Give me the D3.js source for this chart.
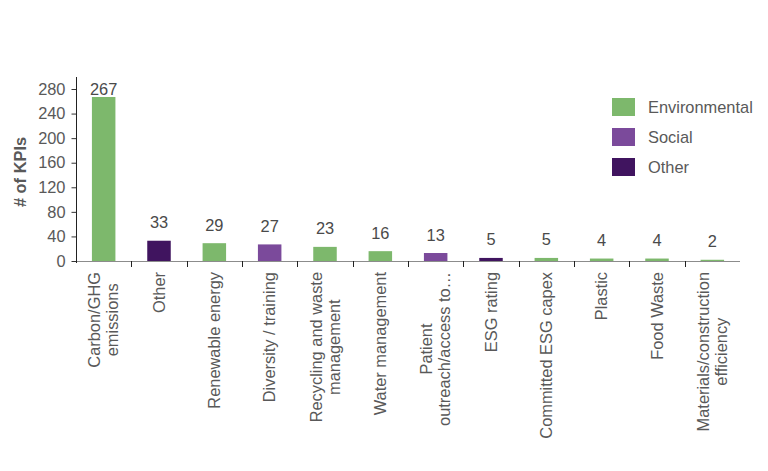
<!DOCTYPE html>
<html>
<head>
<meta charset="utf-8">
<script src="https://cdn.jsdelivr.net/npm/d3@7"></script>
<style>
  html, body { margin: 0; padding: 0; background: #fff; }
  svg { display: block; font-family: "Liberation Sans", Arial, sans-serif; }
</style>
</head>
<body>
<svg id="chart" width="768" height="471"></svg>
<script>
const categories = [
  ["Carbon/GHG", "emissions"],
  ["Other"],
  ["Renewable energy"],
  ["Diversity / training"],
  ["Recycling and waste", "management"],
  ["Water management"],
  ["Patient", "outreach/access to…"],
  ["ESG rating"],
  ["Committed ESG capex"],
  ["Plastic"],
  ["Food Waste"],
  ["Materials/construction", "efficiency"]
];
const values = [267, 33, 29, 27, 23, 16, 13, 5, 5, 4, 4, 2];
const groups = ["Environmental", "Other", "Environmental", "Social", "Environmental", "Environmental", "Social", "Other", "Environmental", "Environmental", "Environmental", "Environmental"];
const legendGroups = ["Environmental", "Social", "Other"];
const yTicks = [0, 40, 80, 120, 160, 200, 240, 280];

const colors = { "Environmental": "#7db86c", "Social": "#7b4a9b", "Other": "#40145f" };

(function () {
const svg = d3.select("#chart");
const mLeft = 76, mRight = 740, mTop = 89, mBottom = 261;
const fs = 16.4;
const txtCol = "#595959";

const xb = d3.scaleBand().domain(d3.range(categories.length)).range([mLeft, mRight]);
const y = d3.scaleLinear().domain([0, 280]).range([mBottom, mTop]);
const barW = 23.5;

// bars
svg.append("g").selectAll("rect").data(values).join("rect")
  .attr("x", (d, i) => xb(i) + xb.bandwidth() / 2 - barW / 2)
  .attr("width", barW)
  .attr("y", d => y(d))
  .attr("height", d => mBottom - y(d))
  .attr("fill", (d, i) => colors[groups[i]]);

// value labels
svg.append("g").selectAll("text").data(values).join("text")
  .attr("x", (d, i) => xb(i) + xb.bandwidth() / 2)
  .attr("y", d => Math.max(y(d) - 12.5, 94.5))
  .attr("text-anchor", "middle")
  .attr("font-size", fs)
  .attr("fill", "#4a4a4a")
  .text(d => d);

// x axis line
svg.append("line").attr("x1", mLeft).attr("x2", mRight).attr("y1", mBottom + 0.5).attr("y2", mBottom + 0.5)
  .attr("stroke", "#8c8c8c").attr("stroke-width", 1);
// x ticks at band boundaries
svg.append("g").selectAll("line").data(d3.range(1, categories.length)).join("line")
  .attr("x1", i => Math.round(xb(i)) + 0.5).attr("x2", i => Math.round(xb(i)) + 0.5)
  .attr("y1", mBottom).attr("y2", mBottom + 6)
  .attr("stroke", "#222").attr("stroke-width", 1);

// y axis
const yAxis = d3.axisLeft(y).tickValues(yTicks).tickSize(5).tickPadding(6);
const yg = svg.append("g").attr("transform", `translate(${mLeft + 0.5},0)`).call(yAxis);
yg.select(".domain").remove();
yg.selectAll(".tick line").attr("stroke", "#333");
yg.selectAll(".tick text").attr("font-size", fs).attr("fill", txtCol).attr("font-family", "'Liberation Sans', Arial, sans-serif");
svg.append("line").attr("x1", mLeft + 0.5).attr("x2", mLeft + 0.5).attr("y1", 77).attr("y2", mBottom + 2)
  .attr("stroke", "#222").attr("stroke-width", 1);

// y title
svg.append("text")
  .attr("transform", `translate(26,172) rotate(-90)`)
  .attr("text-anchor", "middle")
  .attr("font-size", fs)
  .attr("font-weight", "bold")
  .attr("fill", txtCol)
  .text("# of KPIs");

// x labels (rotated, end-anchored at top, lines centered on each other)
const lineH = 18;
categories.forEach((lines, i) => {
  const cx = xb(i) + xb.bandwidth() / 2;
  const n = lines.length;
  const g = svg.append("g").attr("transform", `translate(${cx},272) rotate(-90)`);
  const texts = lines.map((t, k) => g.append("text")
    .attr("font-size", fs)
    .attr("fill", txtCol)
    .attr("text-anchor", "middle")
    .attr("y", (k - (n - 1) / 2) * lineH + 5.8)
    .text(t));
  const maxW = d3.max(texts, t => t.node().getComputedTextLength());
  texts.forEach(t => t.attr("x", -maxW / 2));
});

// legend
const lg = svg.append("g");
legendGroups.forEach((name, i) => {
  const yy = 98 + i * 30;
  lg.append("rect").attr("x", 612).attr("y", yy).attr("width", 23).attr("height", 18).attr("fill", colors[name]);
  lg.append("text").attr("x", 648).attr("y", yy + 14.8).attr("font-size", fs).attr("fill", txtCol).text(name);
});
})();
</script>
</body>
</html>
